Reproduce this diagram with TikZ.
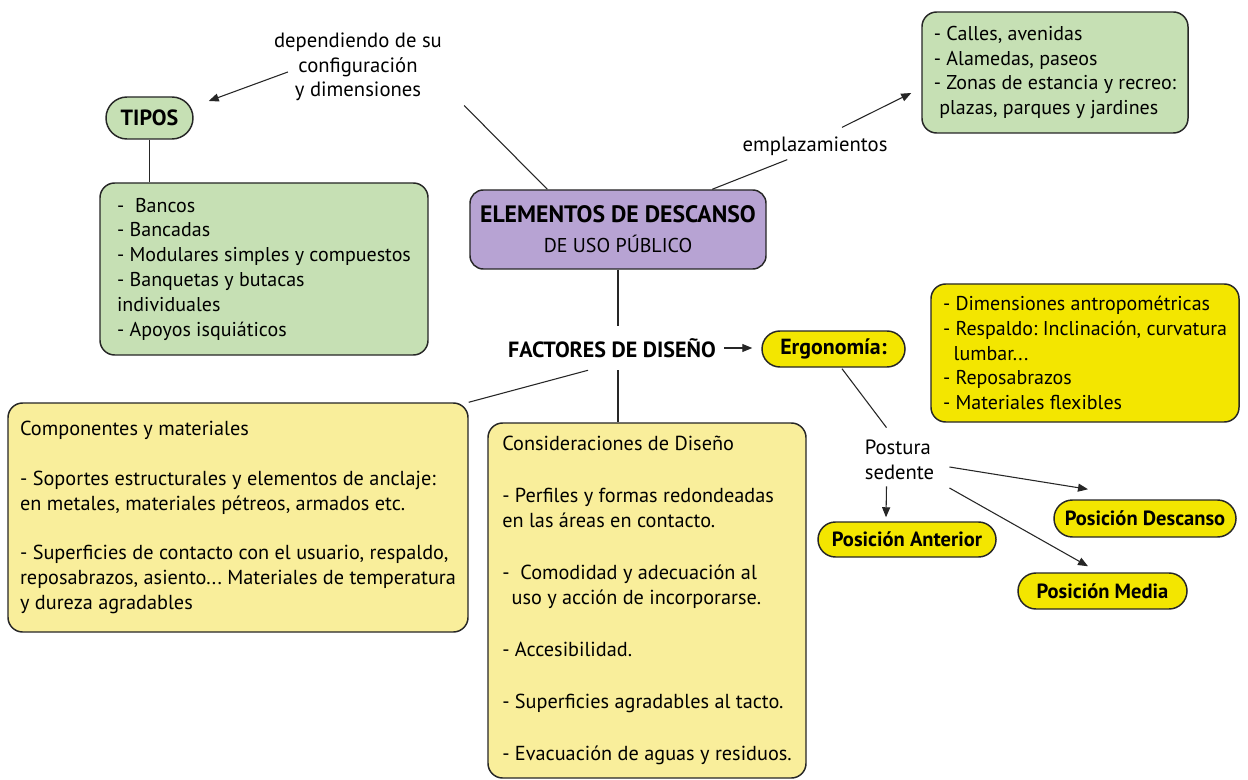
\documentclass[tikz,border=0pt]{standalone}
\usepackage{fontspec}
\setmainfont{PT Sans}
\usetikzlibrary{arrows.meta,calc,shapes.misc}
\definecolor{gfill}{HTML}{C6E0B4}
\definecolor{pfill}{HTML}{B7A3D3}
\definecolor{yfill}{HTML}{F3E600}
\definecolor{lyfill}{HTML}{F9EE9B}
\definecolor{edge}{HTML}{262626}
\frenchspacing
\begin{document}
\begin{tikzpicture}[x=0.75pt,y=-0.75pt,
  box/.style={draw=edge, line width=1.1pt, rounded corners=11pt, inner sep=0pt, align=left},
  pillbox/.style={draw=edge, line width=1.1pt, rounded rectangle, inner sep=0pt, font=\fontsize{15.4}{17}\selectfont\bfseries},
  body/.style={font=\fontsize{15}{18.6}\selectfont},
  lbl/.style={inner sep=0pt, font=\fontsize{15.5}{18.6}\selectfont},
  conn/.style={draw=edge, line width=0.8pt},
  arr/.style={conn, -{Triangle[length=7.5pt,width=6pt]}}]
\useasboundingbox (0,0) rectangle (1248,780);
\fill[white] (0,0) rectangle (1248,780);

% top-left
\node[pillbox, fill=gfill, minimum width=65.25pt, minimum height=31.5pt, font=\fontsize{16.5}{18}\selectfont\bfseries] (tipos) at (149.5,118) {TIPOS};
\node[box, body, fill=gfill, minimum width=246pt, minimum height=129pt] (tiposlist) at (264,269)
  {-\ \ Bancos\\- Bancadas\\- Modulares simples y compuestos\\- Banquetas y butacas\\individuales\\- Apoyos isquiáticos};
\node[lbl, align=center] (dep) at (358,67) {dependiendo de su\\configuración\\y dimensiones};

% center
\node[box, fill=pfill, rounded corners=10pt, align=center, minimum width=222pt, minimum height=59.25pt] (central) at (618,229.5)
  {{\fontsize{17.8}{20}\selectfont\bfseries ELEMENTOS DE DESCANSO}\\[8pt]{\fontsize{15}{17}\selectfont DE USO PÚBLICO}};
\node[lbl] (empl) at (815,146) {emplazamientos};
\node[box, body, fill=gfill, minimum width=199.5pt, minimum height=90.75pt] (lugares) at (1055,72.5)
  {- Calles, avenidas\\- Alamedas, paseos\\- Zonas de estancia y recreo:\\\hspace*{4pt}plazas, parques y jardines};

% factores
\node[inner sep=0pt, minimum height=33pt, font=\fontsize{16.5}{18}\selectfont\bfseries] (factores) at (612,348) {FACTORES DE DISEÑO};
\node[pillbox, fill=yfill, minimum width=107.25pt, minimum height=27pt, font=\fontsize{16.4}{18}\selectfont\bfseries] (ergo) at (833.5,349) {Ergonomía:};
\node[box, body, fill=yfill, minimum width=231pt, minimum height=103.5pt] (ergolist) at (1085,353)
  {- Dimensiones antropométricas\\- Respaldo: Inclinación, curvatura\\\hspace*{8pt}lumbar...\\- Reposabrazos\\- Materiales flexibles};

\node[box, fill=lyfill, minimum width=345pt, minimum height=171.75pt, font=\fontsize{15.2}{18.6}\selectfont] (comp) at (238,517.5)
  {Componentes y materiales\\[18.6pt]- Soportes estructurales y elementos de anclaje:\\en metales, materiales pétreos, armados etc.\\[18.6pt]- Superficies de contacto con el usuario, respaldo,\\reposabrazos, asiento... Materiales de temperatura\\y dureza agradables};
\node[box, fill=lyfill, minimum width=238.5pt, minimum height=266.25pt, font=\fontsize{15.2}{19}\selectfont] (cons) at (647,600.5)
  {Consideraciones de Diseño\\[20pt]- Perfiles y formas redondeadas\\en las áreas en contacto.\\[20pt]-\ \ Comodidad y adecuación al\\\hspace*{7pt}uso y acción de incorporarse.\\[20pt]- Accesibilidad.\\[20pt]- Superficies agradables al tacto.\\[20pt]- Evacuación de aguas y residuos.};

% postura
\node[lbl, align=left, font=\fontsize{15.5}{19}\selectfont] (postura) at (899.5,460) {Postura\\sedente};
\node[pillbox, fill=yfill, minimum width=133.5pt, minimum height=26.25pt] (anterior) at (907,539.5) {Posición Anterior};
\node[pillbox, fill=yfill, minimum width=136.5pt, minimum height=27.75pt] (descanso) at (1145,518.5) {Posición Descanso};
\node[pillbox, fill=yfill, minimum width=126.75pt, minimum height=27pt] (media) at (1102.5,591) {Posición Media};

% connectors
\draw[conn] (tipos.south) -- (tipos.south |- tiposlist.north);
\draw[arr] ($(dep.west)+(14,5)$) -- ($(tipos.east)+(15,-17)$);
\draw[conn] ($(central.north west)+(78,0)$) -- ($(dep.south east)+(22,4)$);
\draw[conn] ($(central.north west)+(243,0)$) -- ($(empl.south west)+(45,4)$);
\draw[arr] ($(empl.north)+(27,-9)$) -- ($(lugares.west)+(-10,20.5)$);
\draw[conn] (central.south) -- (central.south |- factores.north);
\draw[conn] (central.south |- factores.south) -- (central.south |- cons.north);
\draw[conn] ($(factores.south)+(-24,0)$) -- (comp.north east);
\draw[arr] ($(factores.east)+(8,0)$) -- ($(factores.east -| ergo.west)+(-9,0)$);
\draw[conn] ($(ergo.south)+(8.5,1)$) -- ($(postura.north)+(-13,-12)$);
\draw[arr] ($(postura.south)+(-13,6)$) -- ($(anterior.north)+(-21,-4)$);
\draw[arr] ($(postura.east)+(15,7)$) -- ($(descanso.north)+(-57,-10)$);
\draw[arr] ($(postura.east)+(15,28)$) -- ($(media.north)+(-14.5,-6)$);
\end{tikzpicture}
\end{document}
